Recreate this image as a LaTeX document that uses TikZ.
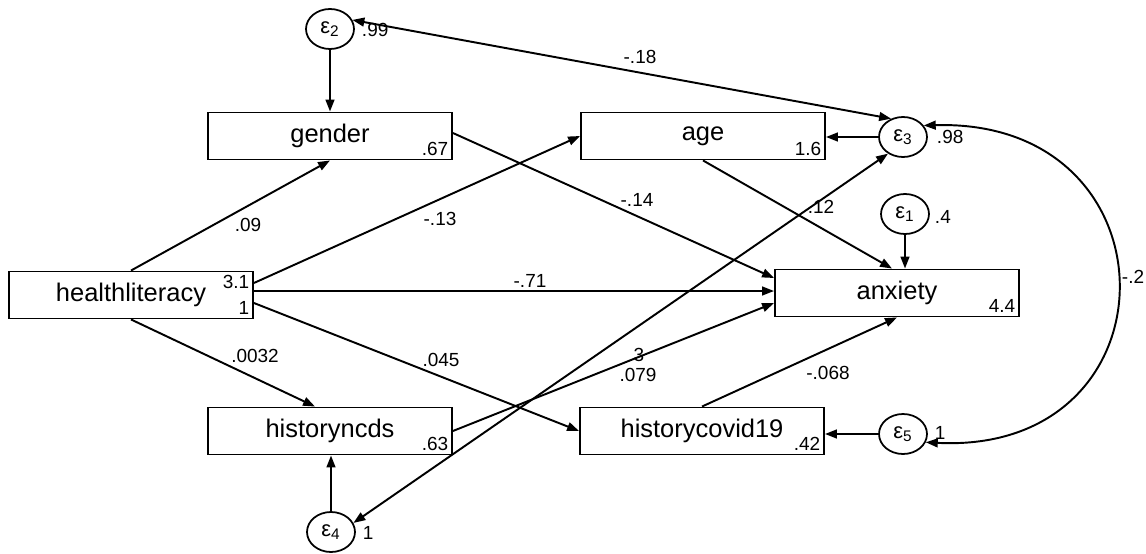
\documentclass[tikz,border=0pt]{standalone}
\usepackage{fontspec}
\setmainfont{Liberation Sans}
\usetikzlibrary{arrows.meta, shapes.geometric}

\begin{document}
\begin{tikzpicture}[x=0.02cm, y=-0.02cm,
    every node/.style={font=\fontsize{10.8}{12}\selectfont},
    var/.style={draw, line width=1.1pt, minimum width=4.88cm, minimum height=0.94cm, inner sep=0pt, font=\fontsize{14.5}{17}\selectfont},
    err/.style={draw, ellipse, line width=1pt, minimum width=0.96cm, minimum height=0.8cm, inner sep=0pt, font=\fontsize{12.5}{14}\selectfont},
    est/.style={inner sep=2.5pt},
    link/.style={-{Triangle[length=6.8pt, width=5pt]}, line width=1.1pt},
    cov/.style={{Triangle[length=6.8pt, width=5pt]}-{Triangle[length=6.8pt, width=5pt]}, line width=1.1pt}
]
\useasboundingbox (0,0) rectangle (1146,554);

% Observed variables
\node[var] (gender) at (330,136) {gender};
\node[var] (age) at (703,136) {age};
\node[var] (hl) at (131,295) {healthliteracy};
\node[var] (ax) at (897,293) {anxiety};
\node[var] (hn) at (330,431) {historyncds};
\node[var] (hc) at (702,431) {historycovid19};

% Error terms
\node[err] (e2) at (330,29) {\raisebox{-2pt}{ε\textsubscript{2}}};
\node[err] (e3) at (903,137) {\raisebox{-2pt}{ε\textsubscript{3}}};
\node[err] (e1) at (905,214) {\raisebox{-2pt}{ε\textsubscript{1}}};
\node[err] (e4) at (331,532) {\raisebox{-2pt}{ε\textsubscript{4}}};
\node[err] (e5) at (903,434) {\raisebox{-2pt}{ε\textsubscript{5}}};

% Intercepts / variances
\node[est, anchor=south east] (vgender) at (gender.south east) {.67};
\node[est, anchor=south east] (vage) at (age.south east) {1.6};
\node[est, anchor=north east] (vhl) at (hl.north east) {3.1};
\node[est, anchor=south east] (vhl2) at (hl.south east) {1};
\node[est, anchor=south east] (vax) at (ax.south east) {4.4};
\node[est, anchor=south east] (vhn) at (hn.south east) {.63};
\node[est, anchor=south east] (vhc) at (hc.south east) {.42};
\node[anchor=west, inner sep=1pt] (ve2) at ([shift={(5,1)}]e2.east) {.99};
\node[anchor=west, inner sep=1pt] (ve3) at ([shift={(7,0)}]e3.east) {.98};
\node[anchor=west, inner sep=1pt] (ve1) at ([shift={(3,3)}]e1.east) {.4};
\node[anchor=west, inner sep=1pt] (ve4) at ([shift={(5,1)}]e4.east) {1};
\node[anchor=west, inner sep=1pt] (ve5) at ([shift={(5,-1)}]e5.east) {1};

% Path coefficients
\node (c1) at (248,225) {.09};
\node (c2) at (440,219) {-.13};
\node (c3) at (530,281) {-.71};
\node (c4) at (255,356) {.0032};
\node (c5) at (441,360) {.045};
\node (c6) at (637,200) {-.14};
\node (c7) at (821,207) {.12};
\node (c8) at (639,355) {3};
\node (c9) at (638,375) {.079};
\node (c10) at (828,373) {-.068};
\node (c11) at (640,57) {-.18};
\node (c12) at (1133,277) {-.2};

% Structural paths
\draw[link] (hl.north) -- (gender.south);
\draw[link] ([shift={(0,-12)}]hl.east) -- (age.west);
\draw[link] ([shift={(0,-4)}]hl.east) coordinate (h0) -- (h0 -| ax.west);
\draw[link] ([shift={(0,8)}]hl.east) -- (hc.west);
\draw[link] (hl.south) -- ([shift={(-15,0)}]hn.north);
\draw[link] ([shift={(0,-3)}]gender.east) -- ([shift={(0,-15)}]ax.west);
\draw[link] (age.south) -- ([shift={(-5,0)}]ax.north);
\draw[link] (hn.east) -- ([shift={(0,10)}]ax.west);
\draw[link] (hc.north) -- (ax.south);

% Error paths
\draw[link] (e2) -- (gender);
\draw[link] (e3.west) -- (e3.west -| age.east);
\draw[link] (e1.south) -- (e1.south |- ax.north);
\draw[link] (e4.north) -- (e4.north |- hn.south);
\draw[link] (e5.west) -- (e5.west -| hc.east);

% Covariances
\draw[cov] (e2.22) -- (e3.123);
\draw[cov] (e4.22) -- (e3.228);
\draw[cov] (e3.29) .. controls (1181,118) and (1181,455) .. (e5.-20);

\end{tikzpicture}
\end{document}
